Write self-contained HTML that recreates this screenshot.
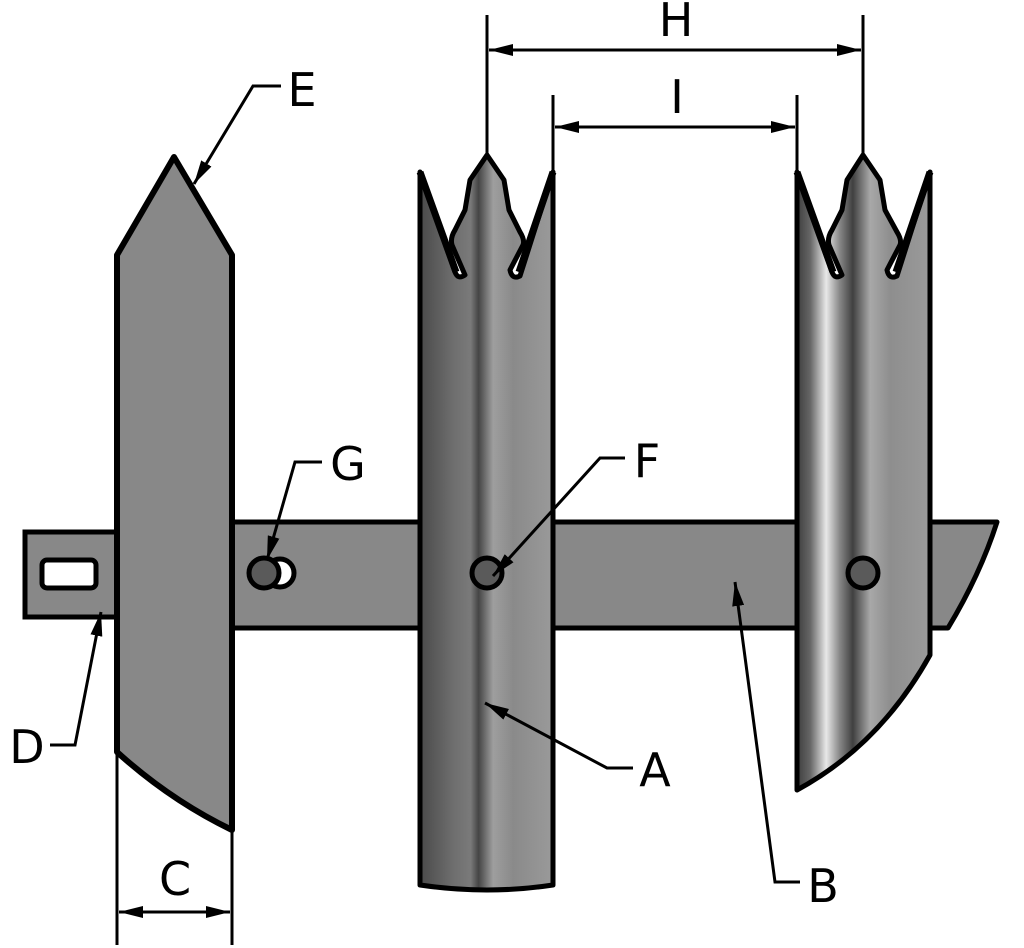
<!DOCTYPE html>
<html><head><style>html,body{margin:0;padding:0;background:#fff;}svg{display:block}</style></head>
<body>
<svg width="1024" height="948" viewBox="0 0 1024 948" xmlns="http://www.w3.org/2000/svg">
<defs>
<linearGradient id="g1" x1="0" x2="1" y1="0" y2="0">
<stop offset="0" stop-color="#4a4a4a"/>
<stop offset="0.25" stop-color="#6e6e6e"/>
<stop offset="0.38" stop-color="#7a7a7a"/>
<stop offset="0.44" stop-color="#454545"/>
<stop offset="0.55" stop-color="#9e9e9e"/>
<stop offset="0.7" stop-color="#8a8a8a"/>
<stop offset="1" stop-color="#9a9a9a"/>
</linearGradient>
<linearGradient id="g2" x1="0" x2="1" y1="0" y2="0">
<stop offset="0" stop-color="#3e3e3e"/>
<stop offset="0.1" stop-color="#666"/>
<stop offset="0.22" stop-color="#e8e8e8"/>
<stop offset="0.32" stop-color="#888"/>
<stop offset="0.42" stop-color="#404040"/>
<stop offset="0.55" stop-color="#a8a8a8"/>
<stop offset="0.7" stop-color="#8e8e8e"/>
<stop offset="1" stop-color="#9a9a9a"/>
</linearGradient>
<marker id="am" viewBox="0 0 24 12" refX="24" refY="6" markerWidth="24" markerHeight="12" orient="auto-start-reverse" markerUnits="userSpaceOnUse">
<path d="M0,0 L24,6 L0,12 z" fill="#000"/>
</marker>
</defs>

<path d="M232,522 L997,522 Q980,575 948,628 L232,628 Z" fill="#888" stroke="#000" stroke-width="5" stroke-linejoin="round"/>
<rect x="25" y="532" width="95" height="85" fill="#888" stroke="#000" stroke-width="5"/>
<rect x="42" y="560" width="54" height="28" rx="5" fill="#fff" stroke="#000" stroke-width="5"/>

<path d="M117,255 L174,157 L232,255 L232,830 Q170,800 117,752 Z" fill="#888" stroke="#000" stroke-width="6" stroke-linejoin="round"/>

<circle cx="280" cy="573" r="14" fill="#fff" stroke="#000" stroke-width="5"/>
<circle cx="264" cy="573" r="15" fill="#5a5a5a" stroke="#000" stroke-width="5"/>

<path d="M420,172 L455,272 Q458,280 465,275 L452,245 Q450,238 455,230 L465,210 L470,180 L487,155 L504,180 L509,210 L520,232 Q525,240 523,245 L510,270 Q512,280 520,276 L553,172 L553,885 Q487,895 420,885 Z" fill="url(#g1)" stroke="#000" stroke-width="5" stroke-linejoin="round"/>
<path d="M420,172 L456,272 M553,172 L519,272" stroke="#000" stroke-width="7" fill="none"/>
<circle cx="487" cy="573" r="15" fill="#5a5a5a" stroke="#000" stroke-width="5"/>

<path d="M797,172 L832,272 Q835,280 842,275 L829,245 Q827,238 832,230 L842,210 L847,180 L863,155 L880,180 L885,210 L897,232 Q902,240 900,245 L887,270 Q889,280 897,276 L930,172 L930,655 Q880,745 797,790 Z" fill="url(#g2)" stroke="#000" stroke-width="5" stroke-linejoin="round"/>
<path d="M797,172 L833,272 M930,172 L896,272" stroke="#000" stroke-width="7" fill="none"/>
<circle cx="863" cy="573" r="15" fill="#5a5a5a" stroke="#000" stroke-width="5"/>

<g stroke="#000" stroke-width="3" fill="none">
<line x1="487" y1="15" x2="487" y2="157"/>
<line x1="863" y1="15" x2="863" y2="157"/>
<line x1="489" y1="50" x2="861" y2="50" marker-start="url(#am)" marker-end="url(#am)"/>
<line x1="553" y1="95" x2="553" y2="172"/>
<line x1="797" y1="95" x2="797" y2="172"/>
<line x1="555" y1="127" x2="795" y2="127" marker-start="url(#am)" marker-end="url(#am)"/>
<line x1="117" y1="752" x2="117" y2="945"/>
<line x1="232" y1="830" x2="232" y2="945"/>
<line x1="119" y1="912" x2="230" y2="912" marker-start="url(#am)" marker-end="url(#am)"/>
<polyline points="281,86 253,86 194,184" marker-end="url(#am)"/>
<polyline points="322,462 295,462 267,560" marker-end="url(#am)"/>
<polyline points="625,458 600,458 493,576" marker-end="url(#am)"/>
<polyline points="50,745 75,745 101,612" marker-end="url(#am)"/>
<polyline points="633,768 607,768 485,703" marker-end="url(#am)"/>
<polyline points="800,882 775,882 735,582" marker-end="url(#am)"/>
</g>

<g font-family="DejaVu Sans, Liberation Sans, sans-serif" font-size="46" fill="#000" text-anchor="middle">
<text x="676" y="36">H</text>
<text x="677" y="113">I</text>
<text x="302" y="106">E</text>
<text x="348" y="480">G</text>
<text x="647" y="477">F</text>
<text x="27" y="763">D</text>
<text x="655" y="786">A</text>
<text x="823" y="902">B</text>
<text x="175" y="895">C</text>
</g>
</svg>
</body></html>
